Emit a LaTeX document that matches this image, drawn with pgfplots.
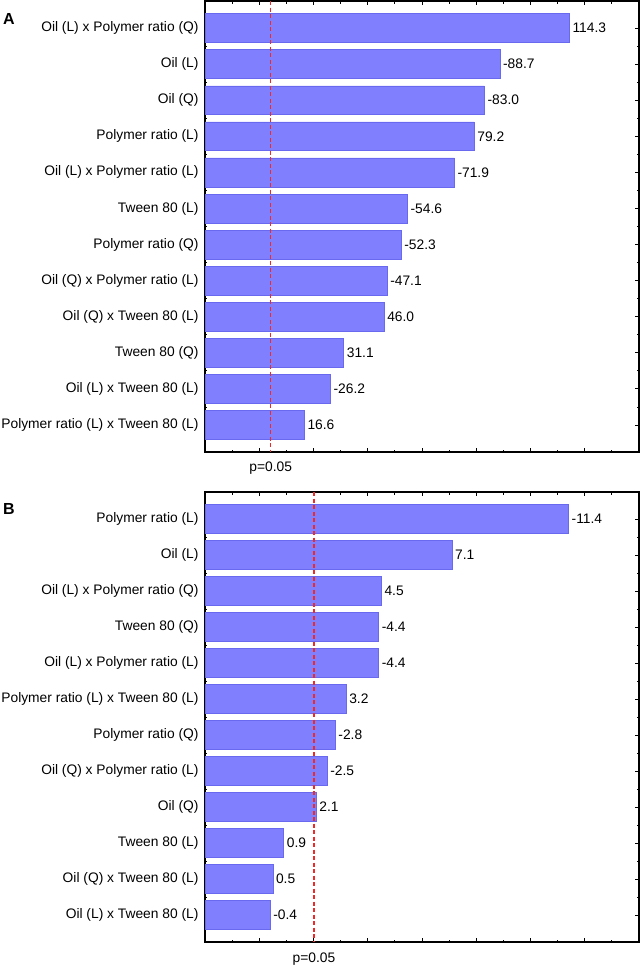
\documentclass[border=0pt]{standalone}
\usepackage{pgfplots}
\pgfplotsset{compat=1.18}
\usepackage{pgfplotstable}
\usepackage{fontspec}
\setmainfont{Liberation Sans}
\definecolor{barfill}{RGB}{128,128,255}
\definecolor{baredge}{RGB}{105,105,240}
\definecolor{pline}{RGB}{240,40,40}
\newcommand\lbl{\fontsize{13.8bp}{16bp}\selectfont}

% |t| values and signed labels, panel A
\pgfplotstableread{
pos t lab
1 114.3 114.3
2 88.7 -88.7
3 83.0 -83.0
4 79.2 79.2
5 71.9 -71.9
6 54.6 -54.6
7 52.3 -52.3
8 47.1 -47.1
9 46.0 46.0
10 31.1 31.1
11 26.2 -26.2
12 16.6 16.6
}\dataA

% panel B
\pgfplotstableread{
pos t lab
1 11.4 -11.4
2 7.1 7.1
3 4.5 4.5
4 4.4 -4.4
5 4.4 -4.4
6 3.2 3.2
7 2.8 -2.8
8 2.5 -2.5
9 2.1 2.1
10 0.9 0.9
11 0.5 0.5
12 0.4 -0.4
}\dataB

\pgfplotsset{pareto/.style={
  scale only axis, width=434bp, anchor=north west,
  xbar, bar width=0.8,
  y dir=reverse, ymin=0.25, ymax=12.75, ytick={1,...,12}, minor y tick num=1,
  xmin=0, xticklabels={}, minor x tick num=1,
  tick align=inside, tick pos=both,
  major tick length=4bp, minor tick length=2.5bp,
  axis line style={line width=1.1bp},
  every tick/.style={black, line width=0.8bp},
  clip=false,
  nodes near coords, point meta=explicit symbolic,
  nodes near coords style={anchor=west, font=\lbl, text=black, inner xsep=3bp},
  yticklabel style={font=\lbl, xshift=-3bp},
}}

\begin{document}
\begin{tikzpicture}
\useasboundingbox (0bp,0bp) rectangle (642bp,-966bp);
\node[anchor=base west, inner sep=0, font=\fontsize{16bp}{18bp}\selectfont\bfseries] at (3bp,-24bp) {A};
\node[anchor=base west, inner sep=0, font=\fontsize{16bp}{18bp}\selectfont\bfseries] at (3bp,-514bp) {B};

\begin{axis}[pareto, at={(205bp,-1bp)}, height=451bp,
  xmax=160, xtick={0,20,...,160},
  yticklabels={Oil (L) x Polymer ratio (Q), Oil (L), Oil (Q), Polymer ratio (L),
    Oil (L) x Polymer ratio (L), Tween 80 (L), Polymer ratio (Q),
    Oil (Q) x Polymer ratio (L), Oil (Q) x Tween 80 (L), Tween 80 (Q),
    Oil (L) x Tween 80 (L), Polymer ratio (L) x Tween 80 (L)}]
\addplot[fill=barfill, draw=baredge, line width=0.5bp]
  table[x expr=\thisrow{t}+20, y=pos, meta=lab] {\dataA};
\draw[pline, line width=1.3bp, dash pattern=on 4bp off 2.5bp]
  (axis cs:24.2,0.25) -- (axis cs:24.2,12.75);
\node[anchor=base, font=\lbl, inner sep=0] at (axis cs:24.2,12.75) [yshift=-19.5bp] {p=0.05};
\end{axis}

\begin{axis}[pareto, at={(205bp,-492bp)}, height=450bp,
  xmax=16, xtick={0,2,...,16},
  yticklabels={Polymer ratio (L), Oil (L), Oil (L) x Polymer ratio (Q), Tween 80 (Q),
    Oil (L) x Polymer ratio (L), Polymer ratio (L) x Tween 80 (L), Polymer ratio (Q),
    Oil (Q) x Polymer ratio (L), Oil (Q), Tween 80 (L),
    Oil (Q) x Tween 80 (L), Oil (L) x Tween 80 (L)}]
\addplot[fill=barfill, draw=baredge, line width=0.5bp]
  table[x expr=\thisrow{t}+2, y=pos, meta=lab] {\dataB};
\draw[pline, line width=1.3bp, dash pattern=on 4bp off 2.5bp]
  (axis cs:4.02,0.25) -- (axis cs:4.02,12.75);
\node[anchor=base, font=\lbl, inner sep=0] at (axis cs:4.02,12.75) [yshift=-20bp] {p=0.05};
\end{axis}
\end{tikzpicture}
\end{document}
